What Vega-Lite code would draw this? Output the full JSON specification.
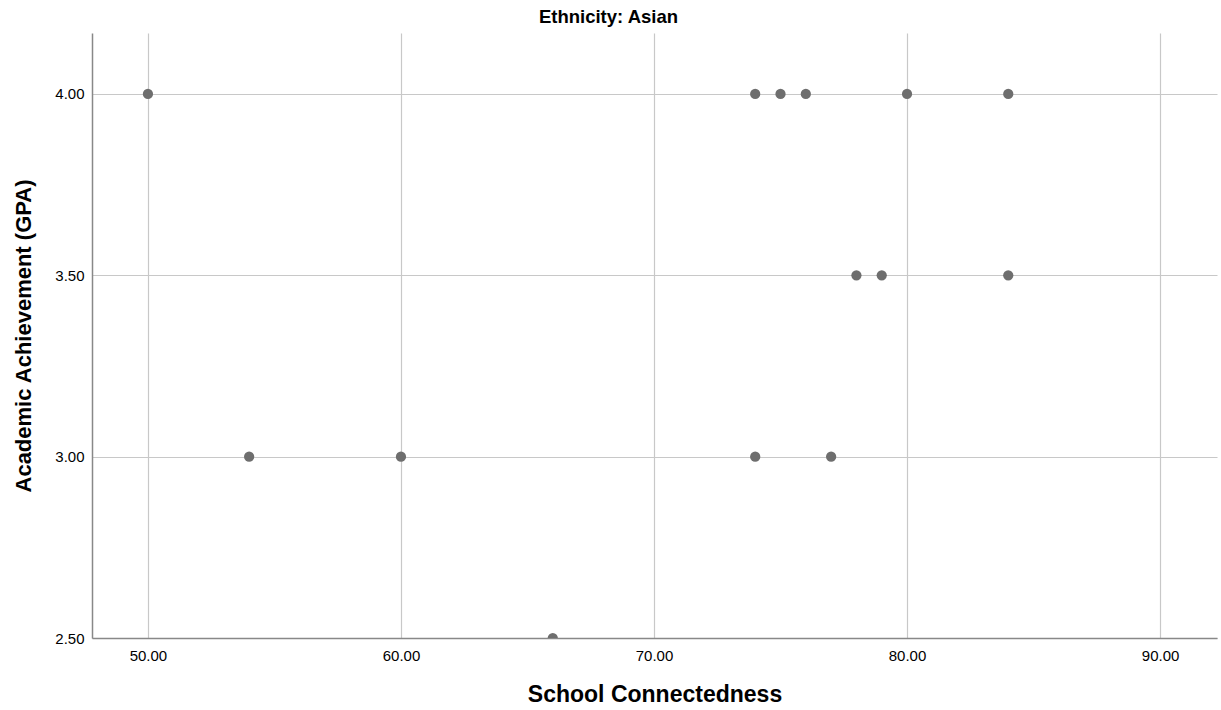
{
  "$schema": "https://vega.github.io/schema/vega-lite/v6.json",
  "autosize": {"type": "none"},
  "width": 1125,
  "height": 605,
  "padding": {"left": 92, "top": 33, "right": 4, "bottom": 72},
  "background": "white",
  "title": {"text": "Ethnicity: Asian", "font": "Liberation Sans", "fontSize": 18.5, "fontWeight": "bold", "color": "#000000", "anchor": "middle", "dx": -46, "offset": 7},
  "data": {"values": [
    {"sc": 50, "gpa": 4.0},
    {"sc": 74, "gpa": 4.0},
    {"sc": 75, "gpa": 4.0},
    {"sc": 76, "gpa": 4.0},
    {"sc": 80, "gpa": 4.0},
    {"sc": 84, "gpa": 4.0},
    {"sc": 78, "gpa": 3.5},
    {"sc": 79, "gpa": 3.5},
    {"sc": 84, "gpa": 3.5},
    {"sc": 54, "gpa": 3.0},
    {"sc": 60, "gpa": 3.0},
    {"sc": 74, "gpa": 3.0},
    {"sc": 77, "gpa": 3.0},
    {"sc": 66, "gpa": 2.5}
  ]},
  "mark": {"type": "point", "filled": true, "shape": "circle", "size": 105, "color": "#6e6e6e", "opacity": 1, "clip": true},
  "encoding": {
    "x": {"field": "sc", "type": "quantitative",
      "scale": {"domain": [47.79, 92.25], "nice": false, "zero": false},
      "axis": {"values": [50, 60, 70, 80, 90], "format": ".2f", "title": "School Connectedness",
        "titleFont": "Liberation Sans", "titleFontSize": 23, "titleFontWeight": "bold", "titleColor": "#000000", "titlePadding": 20,
        "labelFont": "Liberation Sans", "labelFontSize": 15, "labelColor": "#000000", "labelPadding": 10,
        "ticks": false, "domainColor": "#888888", "domainWidth": 1.5,
        "grid": true, "gridColor": "#c8c8c8", "gridWidth": 1.2}},
    "y": {"field": "gpa", "type": "quantitative",
      "scale": {"domain": [2.5, 4.168], "nice": false, "zero": false},
      "axis": {"values": [2.5, 3.0, 3.5, 4.0], "format": ".2f", "title": "Academic Achievement (GPA)",
        "titleFont": "Liberation Sans", "titleFontSize": 22, "titleFontWeight": "bold", "titleColor": "#000000", "titlePadding": 19,
        "labelFont": "Liberation Sans", "labelFontSize": 15, "labelColor": "#000000", "labelPadding": 8,
        "ticks": false, "domainColor": "#888888", "domainWidth": 1.5,
        "grid": true, "gridColor": "#c8c8c8", "gridWidth": 1.2}}
  },
  "config": {"view": {"stroke": null}}
}
